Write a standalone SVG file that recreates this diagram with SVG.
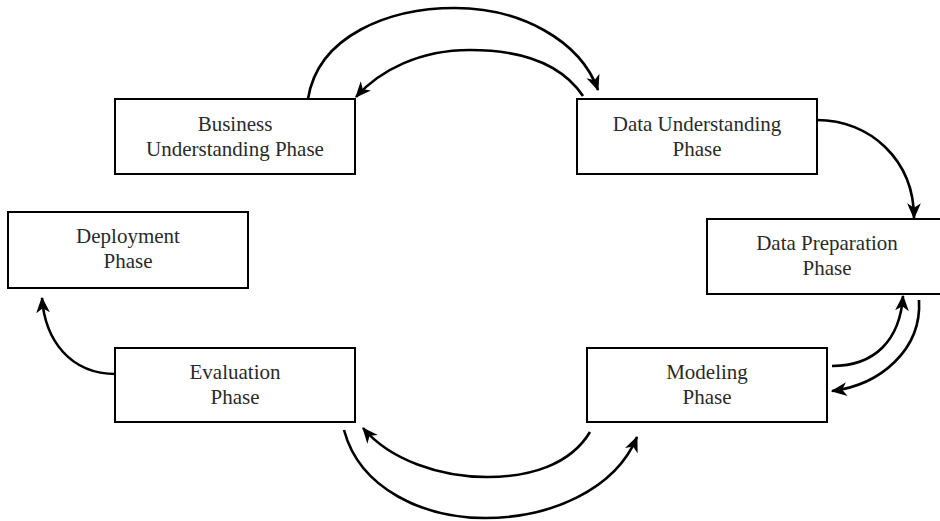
<svg xmlns="http://www.w3.org/2000/svg" width="940" height="521" viewBox="0 0 940 521">
  <style>
    .box { fill: #ffffff; stroke: #000000; stroke-width: 2; }
    .lbl { font-family: "Liberation Serif", "Times New Roman", serif; font-size: 21px; fill: #2a2a2a; text-anchor: middle; }
    .conn { fill: none; stroke: #000000; stroke-width: 2.6; marker-end: url(#arrow); }
  </style>
  <defs>
    <marker id="arrow" viewBox="0 0 14 12" refX="13" refY="6" markerWidth="16" markerHeight="14" markerUnits="userSpaceOnUse" orient="auto">
      <path d="M0,0 L14,6 L0,12 L4,6 z" fill="#000000"/>
    </marker>
  </defs>
  <rect width="940" height="521" fill="#ffffff"/>

  <g id="connectors">
    <path class="conn" d="M308,99 C318,35 390,8 455,8 C520,8 580,40 598,90"/>
    <path class="conn" d="M583,96 C560,62 520,50 470,50 C420,50 380,70 356,97"/>
    <path class="conn" d="M817,120 C870,120 914,160 914,218"/>
    <path class="conn" d="M832,366 C875,366 900,340 903,296"/>
    <path class="conn" d="M919,300 C922,350 880,385 832,391"/>
    <path class="conn" d="M590,432 C570,465 530,477 487,477 C440,477 390,460 363,428"/>
    <path class="conn" d="M344,430 C360,490 425,518 485,518 C550,518 615,490 637,437"/>
    <path class="conn" d="M116,374 C70,374 45,340 42,298"/>
  </g>

  <g id="business">
    <rect class="box" x="115" y="99" width="240" height="75"/>
    <text class="lbl" x="235" y="131">Business</text>
    <text class="lbl" x="235" y="156">Understanding Phase</text>
  </g>
  <g id="data-understanding">
    <rect class="box" x="577" y="99" width="240" height="75"/>
    <text class="lbl" x="697" y="131">Data Understanding</text>
    <text class="lbl" x="697" y="156">Phase</text>
  </g>
  <g id="data-preparation">
    <rect class="box" x="707" y="219" width="240" height="75"/>
    <text class="lbl" x="827" y="250">Data Preparation</text>
    <text class="lbl" x="827" y="275">Phase</text>
  </g>
  <g id="deployment">
    <rect class="box" x="8" y="212" width="240" height="76"/>
    <text class="lbl" x="128" y="243">Deployment</text>
    <text class="lbl" x="128" y="268">Phase</text>
  </g>
  <g id="evaluation">
    <rect class="box" x="115" y="348" width="240" height="74"/>
    <text class="lbl" x="235" y="379">Evaluation</text>
    <text class="lbl" x="235" y="404">Phase</text>
  </g>
  <g id="modeling">
    <rect class="box" x="587" y="348" width="240" height="74"/>
    <text class="lbl" x="707" y="379">Modeling</text>
    <text class="lbl" x="707" y="404">Phase</text>
  </g>
</svg>
